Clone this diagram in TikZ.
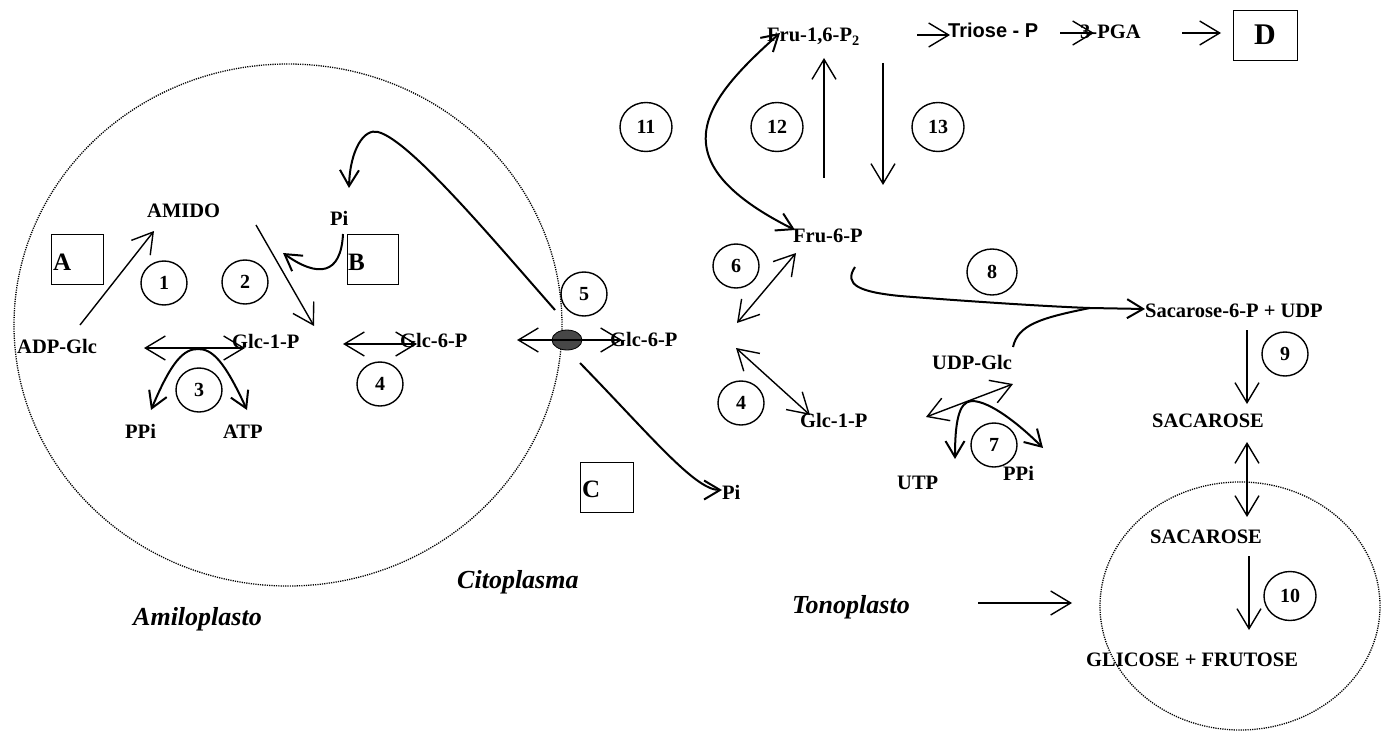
\documentclass[tikz,border=0pt]{standalone}
\usepackage{fontspec}
\setmainfont{Liberation Serif}
\newfontfamily\sansf{Liberation Sans}
\usetikzlibrary{arrows.meta,shapes.geometric}
\begin{document}
\begin{tikzpicture}[x=1pt,y=-1pt,
  lbl/.style={font=\fontsize{20.5}{24}\selectfont\bfseries, inner sep=0pt, anchor=base west},
  reg/.style={font=\fontsize{26}{30}\selectfont\bfseries\itshape, inner sep=0pt, anchor=base west},
  num/.style={draw, ellipse, line width=1.4pt, minimum width=46pt, minimum height=44pt, inner sep=0pt, font=\fontsize{20}{22}\selectfont\bfseries},
  bignum/.style={num, minimum width=52pt, minimum height=49pt},
  box/.style={draw, line width=1.4pt, inner sep=0pt, anchor=north west},
  boxl/.style={font=\fontsize{25}{28}\selectfont\bfseries, inner sep=0pt, anchor=base west},
  arr/.style={line width=1.4pt, -{Straight Barb[length=20pt,width=24pt]}},
  darr/.style={line width=1.4pt, {Straight Barb[length=20pt,width=24pt]}-{Straight Barb[length=20pt,width=24pt]}},
  carr/.style={line width=2pt, -{Straight Barb[length=16pt,width=19pt]}},
  cdarr/.style={line width=2pt, {Straight Barb[length=16pt,width=19pt]}-{Straight Barb[length=16pt,width=19pt]}},
  cline/.style={line width=2pt},
  membrane/.style={line width=1.3pt, dash pattern=on 1.2pt off 1.1pt}
]
\useasboundingbox (0,0) rectangle (1382,733);

% membranes
\draw[membrane] (288,325) ellipse [x radius=274pt, y radius=261pt];
\draw[membrane] (1240,606) ellipse [x radius=140pt, y radius=124pt];
\node[fill=black!72, draw=black, ellipse, minimum width=30pt, minimum height=20pt, inner sep=0pt, line width=0.8pt] (tr) at (567,340) {};

% labels
\node[lbl] (amido) at (147,217) {AMIDO};
\node[lbl] (piA) at (330,225) {Pi};
\node[lbl] (adp) at (17,353) {ADP-Glc};
\node[lbl] (g1pL) at (232,348) {Glc-1-P};
\node[lbl] (g6pL) at (400,347) {Glc-6-P};
\node[lbl] (ppiL) at (125,438) {PPi};
\node[lbl] (atp) at (223,438) {ATP};
\node[lbl] (g6pR) at (610,346) {Glc-6-P};
\node[lbl] (piC) at (722,499) {Pi};
\node[lbl] (fru16) at (767,42) {Fru-1,6-P\textsubscript{2}};
\node[lbl, font=\sansf\bfseries\fontsize{20}{24}\selectfont] (triose) at (948,38) {Triose - P};
\node[lbl] (pga) at (1080,39) {3-PGA};
\node[lbl] (fru6) at (793,242) {Fru-6-P};
\node[lbl] (g1pR) at (800,427) {Glc-1-P};
\node[lbl] (udp) at (932,369) {UDP-Glc};
\node[lbl] (utp) at (897,489) {UTP};
\node[lbl] (ppiR) at (1003,480) {PPi};
\node[lbl] (sac6) at (1145,317) {Sacarose-6-P + UDP};
\node[lbl] (sac1) at (1152,427) {SACAROSE};
\node[lbl] (sac2) at (1150,543) {SACAROSE};
\node[lbl] (glic) at (1086,666) {GLICOSE + FRUTOSE};
\node[reg] (amil) at (133,625) {Amiloplasto};
\node[reg] (cito) at (457,588) {Citoplasma};
\node[reg] (tono) at (792,613) {Tonoplasto};

% boxes
\node[box, minimum width=52pt, minimum height=50pt] (bA) at (51,234) {};
\node[boxl] (lA) at (53,270) {A};
\node[box, minimum width=51pt, minimum height=50pt] (bB) at (347,234) {};
\node[boxl] (lB) at (348,270) {B};
\node[box, minimum width=53pt, minimum height=50pt] (bC) at (580,462) {};
\node[boxl] (lC) at (582,497) {C};
\node[box, minimum width=64pt, minimum height=50pt] (bD) at (1233,10) {};
\node[font=\fontsize{30}{32}\selectfont\bfseries, inner sep=0pt] (lD) at (1265,35) {D};

% numbered circles
\node[num] (c1) at (164,283) {1};
\node[num] (c2) at (245,282) {2};
\node[num] (c3) at (199,390) {3};
\node[num] (c4a) at (380,384) {4};
\node[num] (c5) at (584,294) {5};
\node[num] (c6) at (736,266) {6};
\node[num] (c4b) at (741,403) {4};
\node[num] (c7) at (994,445) {7};
\node[num, minimum width=50pt, minimum height=46pt] (c8) at (992,272) {8};
\node[num] (c9) at (1285,354) {9};
\node[bignum] (c10) at (1290,596) {10};
\node[bignum] (c11) at (646,127) {11};
\node[bignum] (c12) at (777,127) {12};
\node[bignum] (c13) at (938,127) {13};

% connector end points
\coordinate (a1s) at (80,325);   \coordinate (a1e) at (154,231);
\coordinate (a2s) at (256,225);  \coordinate (a2e) at (314,326);
\coordinate (a3s) at (144,348);  \coordinate (a3e) at (245,348);
\coordinate (a4s) at (343,344);  \coordinate (a4e) at (417,344);
\coordinate (a5s) at (517,340);  \coordinate (a5e) at (622,340);
\coordinate (a6s) at (737,323);  \coordinate (a6e) at (796,253);
\coordinate (a7s) at (736,348);  \coordinate (a7e) at (810,415);
\coordinate (a12s) at (824,178); \coordinate (a12e) at (824,58);
\coordinate (a13s) at (883,63);  \coordinate (a13e) at (883,185);
\coordinate (atrs) at (917,35);  \coordinate (atre) at (950,35);
\coordinate (apgs) at (1060,33); \coordinate (apge) at (1094,33);
\coordinate (ads) at (1182,33);  \coordinate (ade) at (1221,33);
\coordinate (a7bs) at (926,417); \coordinate (a7be) at (1013,384);
\coordinate (a9s) at (1247,330); \coordinate (a9e) at (1247,404);
\coordinate (asbs) at (1247,442);\coordinate (asbe) at (1247,517);
\coordinate (a10s) at (1249,556);\coordinate (a10e) at (1249,630);
\coordinate (atos) at (978,603); \coordinate (atoe) at (1072,603);
\coordinate (piBs) at (343,234); \coordinate (piBe) at (283,253);
\coordinate (bigs) at (555,310); \coordinate (bigt) at (378,132); \coordinate (bige) at (349,188);
\coordinate (pics) at (580,363); \coordinate (pice) at (722,490);
\coordinate (k11a) at (780,33);  \coordinate (k11b) at (795,230);
\coordinate (k8s) at (855,267);  \coordinate (k8m) at (900,296); \coordinate (k8j) at (1090,308); \coordinate (k8e) at (1145,309);
\coordinate (udps) at (1013,347);
\coordinate (h3a) at (151,410);  \coordinate (h3t) at (198,349); \coordinate (h3b) at (247,410);
\coordinate (h7a) at (955,459);  \coordinate (h7t) at (972,401); \coordinate (h7b) at (1043,448);

% straight arrows
\draw[arr] (a1s) -- (a1e);
\draw[arr] (a2s) -- (a2e);
\draw[darr] (a3s) -- (a3e);
\draw[darr] (a4s) -- (a4e);
\draw[darr] (a5s) -- (a5e);
\draw[darr] (a6s) -- (a6e);
\draw[darr] (a7s) -- (a7e);
\draw[arr] (a12s) -- (a12e);
\draw[arr] (a13s) -- (a13e);
\draw[arr] (atrs) -- (atre);
\draw[arr] (apgs) -- (apge);
\draw[arr] (ads) -- (ade);
\draw[darr] (a7bs) -- (a7be);
\draw[arr] (a9s) -- (a9e);
\draw[darr] (asbs) -- (asbe);
\draw[arr] (a10s) -- (a10e);
\draw[arr] (atos) -- (atoe);

% curved arrows
\draw[carr] (piBs) .. controls (341,275) and (318,278) .. (piBe);
\draw[carr] (bigs) .. controls (495,242) and (410,140) .. (bigt) .. controls (364,128) and (350,150) .. (bige);
\draw[carr] (pics) .. controls (650,435) and (695,490) .. (pice);
\draw[cdarr] (k11a) .. controls (705,100) and (655,160) .. (k11b);
\draw[carr] (k8s) .. controls (843,285) and (860,292) .. (k8m) .. controls (990,303) and (1060,307) .. (k8j) -- (k8e);
\draw[cline] (udps) .. controls (1018,325) and (1040,318) .. (k8j);
\draw[cdarr] (h3a) .. controls (172,360) and (184,349) .. (h3t) .. controls (212,349) and (224,360) .. (h3b);
\draw[cdarr] (h7a) .. controls (955,425) and (958,401) .. (h7t) .. controls (990,401) and (1020,425) .. (h7b);
\end{tikzpicture}
\end{document}
